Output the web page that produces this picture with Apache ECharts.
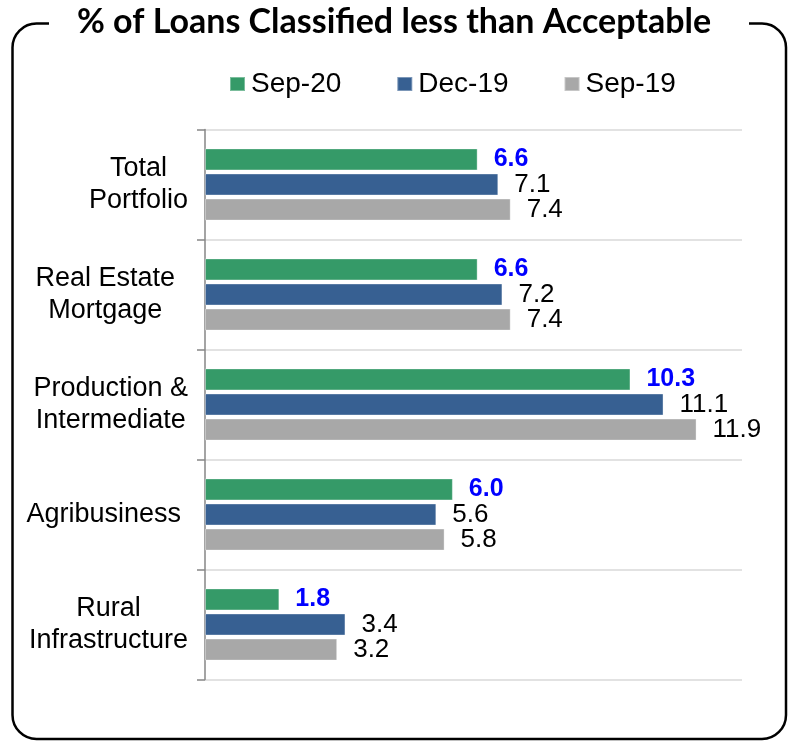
<!DOCTYPE html>
<html>
<head>
<meta charset="utf-8">
<script src="https://cdn.jsdelivr.net/npm/echarts@6/dist/echarts.min.js"></script>
<style>
  html, body { margin: 0; padding: 0; background: #fff; }
  #chart { width: 788px; height: 741px; }
</style>
</head>
<body>
<div id="chart"></div>
<script>
// Loan classification shares by portfolio segment (percent)
const categories = [
  'Total\nPortfolio',
  'Real Estate\nMortgage',
  'Production &\nIntermediate',
  'Agribusiness',
  'Rural\nInfrastructure'
];
const seriesNames = ['Sep-20', 'Dec-19', 'Sep-19'];
const sep20 = [6.6, 6.6, 10.3, 6.0, 1.8];
const dec19 = [7.1, 7.2, 11.1, 5.6, 3.4];
const sep19 = [7.4, 7.4, 11.9, 5.8, 3.2];

const FONT = '"Liberation Sans", Arial, sans-serif';
const colors = ['#359A68', '#376092', '#A8A8A8'];

// extra right inset for a few category labels
const labelInset = { 'Real Estate\nMortgage': 13, 'Agribusiness': 7 };

const chart = echarts.init(document.getElementById('chart'), null, { renderer: 'canvas' });

function barSeries(name, values, color, highlight) {
  return {
    name: name,
    type: 'bar',
    data: values,
    barWidth: 22,
    barGap: '14%',
    itemStyle: {
      color: color,
      borderColor: 'rgba(255,255,255,0.35)',
      borderWidth: 1
    },
    label: {
      show: true,
      position: 'right',
      distance: 16,
      fontFamily: FONT,
      fontSize: highlight ? 25 : 26,
      fontWeight: highlight ? 'bold' : 'normal',
      color: highlight ? '#0000FF' : '#000000',
      formatter: p => p.value.toFixed(1)
    }
  };
}

const labelRich = {};
[['c', 0], ['p13', 13], ['p7', 7]].forEach(([key, pad]) => {
  labelRich[key] = {
    align: 'center',
    fontFamily: FONT,
    fontSize: 27,
    lineHeight: 32,
    color: '#000',
    padding: [0, pad, 0, 0]
  };
});

const option = {
  animation: false,
  backgroundColor: '#ffffff',
  title: {
    text: '% of Loans Classified less than Acceptable',
    left: 'center',
    top: 5,
    padding: 0,
    z: 10,
    textStyle: {
      fontFamily: 'Lato, "Open Sans", sans-serif',
      fontWeight: 'bold',
      fontSize: 34,
      color: '#000000'
    }
  },
  legend: {
    data: seriesNames,
    left: 229,
    top: 70,
    padding: 0,
    icon: 'rect',
    itemWidth: 15,
    itemHeight: 14,
    itemGap: 55,
    textStyle: {
      fontFamily: FONT,
      fontSize: 28,
      lineHeight: 28,
      color: '#000000',
      padding: [0, 0, 0, 1]
    }
  },
  graphic: [
    {
      type: 'rect',
      z: 0,
      shape: { x: 12.5, y: 23.5, width: 773.5, height: 715.5, r: 24 },
      style: { fill: 'none', stroke: '#000000', lineWidth: 2.5 }
    },
    {
      type: 'rect',
      z: 1,
      shape: { x: 49, y: 15, width: 700, height: 16 },
      style: { fill: '#ffffff' }
    }
  ],
  grid: {
    left: 205,
    right: 46,
    top: 129.5,
    bottom: 61.5,
    containLabel: false
  },
  xAxis: {
    type: 'value',
    min: 0,
    max: 13,
    axisLine: { show: false },
    axisTick: { show: false },
    axisLabel: { show: false },
    splitLine: { show: false }
  },
  yAxis: {
    type: 'category',
    data: categories,
    inverse: true,
    axisLine: { show: true, lineStyle: { color: '#868686', width: 1.5 } },
    axisTick: { show: true, length: 8, lineStyle: { color: '#868686', width: 1.5 } },
    splitLine: { show: true, lineStyle: { color: '#D9D9D9', width: 1.5 } },
    axisLabel: {
      margin: 17,
      align: 'right',
      fontFamily: FONT,
      fontSize: 27,
      lineHeight: 32,
      color: '#000000',
      formatter: function (value) {
        const key = labelInset[value] ? 'p' + labelInset[value] : 'c';
        return value.split('\n').map(line => '{' + key + '|' + line + '}').join('\n');
      },
      rich: labelRich
    }
  },
  series: [
    barSeries(seriesNames[0], sep20, colors[0], true),
    barSeries(seriesNames[1], dec19, colors[1], false),
    barSeries(seriesNames[2], sep19, colors[2], false)
  ]
};

chart.setOption(option);
</script>
</body>
</html>
